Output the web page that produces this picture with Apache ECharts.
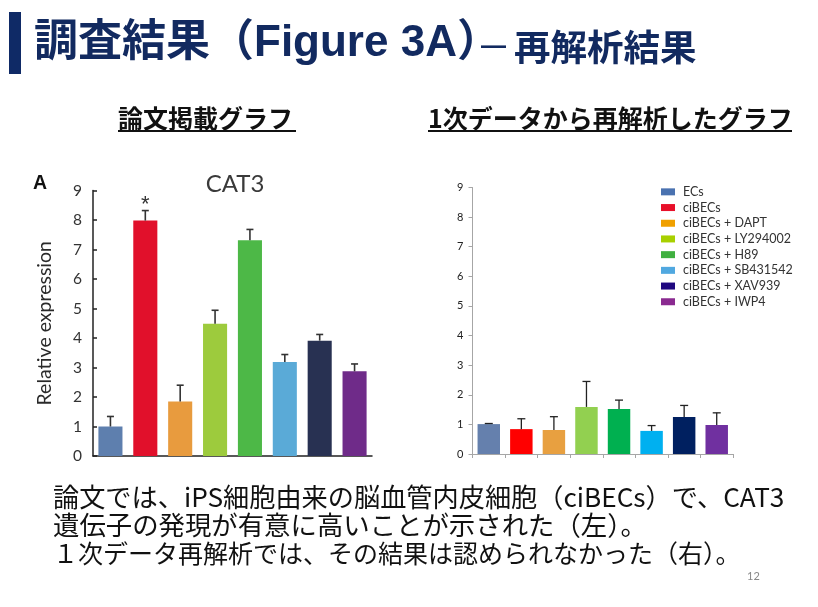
<!DOCTYPE html>
<html><head><meta charset="utf-8">
<script src="https://cdn.jsdelivr.net/npm/echarts@6/dist/echarts.min.js"></script>
<style>html,body{margin:0;padding:0;background:#fff}#c{width:818px;height:607px}</style>
</head><body><div id="c"></div>
<script>
// ---- data ----
const categories = ['ECs', 'ciBECs', 'ciBECs + DAPT', 'ciBECs + LY294002', 'ciBECs + H89', 'ciBECs + SB431542', 'ciBECs + XAV939', 'ciBECs + IWP4'];
const paperValues = [1.0, 7.98, 1.85, 4.48, 7.31, 3.19, 3.91, 2.87];
const paperErrorTops = [1.34, 8.32, 2.40, 4.94, 7.68, 3.44, 4.12, 3.12];
const paperMarks = ['', '*', '', '', '', '', '', ''];
const reanalysisValues = [1.01, 0.84, 0.81, 1.59, 1.52, 0.78, 1.25, 0.98];
const reanalysisErrorTops = [1.03, 1.19, 1.26, 2.45, 1.82, 0.96, 1.64, 1.39];
const yTickLabels = ['0', '1', '2', '3', '4', '5', '6', '7', '8', '9'];

// ---- styles ----
const paperColors = ['#5e7fae', '#e1102b', '#e89b3e', '#9dcb3d', '#4db847', '#5aaad7', '#283152', '#6f2b89'];
const reanalysisColors = ['#6580ad', '#ff0000', '#e8a040', '#92d050', '#00b050', '#00b0f0', '#002060', '#7030a0'];
const legendColors = ['#4a72b0', '#e8102a', '#f0a000', '#a8d000', '#40b040', '#50a8e0', '#200880', '#8a2a90'];
const NAVY = '#122a60';
const JP = '"Noto Sans CJK JP", sans-serif';
const LAT = 'Lato, "Noto Sans", sans-serif';

const chart = echarts.init(document.getElementById('c'), null, {renderer: 'canvas'});

function errorSeries(xi, vals, tops, marks, color, capHalf, lw) {
  return {
    type: 'custom', xAxisIndex: xi, yAxisIndex: xi, z: 5, silent: true,
    data: tops.map((t, i) => [i, vals[i], t]),
    renderItem(params, api) {
      const base = api.coord([api.value(0), api.value(1)]);
      const top = api.coord([api.value(0), api.value(2)]);
      const children = [
        {type: 'line', shape: {x1: base[0], y1: base[1], x2: top[0], y2: top[1]}, style: {stroke: color, lineWidth: lw}},
        {type: 'line', shape: {x1: top[0] - capHalf, y1: top[1], x2: top[0] + capHalf, y2: top[1]}, style: {stroke: color, lineWidth: lw}}
      ];
      if (marks && marks[params.dataIndex]) {
        children.push({type: 'text', style: {text: marks[params.dataIndex], x: top[0], y: top[1] - 6, align: 'center', verticalAlign: 'middle', fontSize: 22, fontFamily: 'Liberation Sans', fill: '#333'}});
      }
      return {type: 'group', children};
    }
  };
}

const rightBarSeries = categories.map((name, i) => ({
  name, type: 'bar', xAxisIndex: 1, yAxisIndex: 1,
  data: categories.map((_, j) => (j === i ? reanalysisValues[i] : '-')),
  barWidth: '69%', barGap: '-100%',
  itemStyle: {color: reanalysisColors[i]}
}));

const option = {
  backgroundColor: '#ffffff',
  animation: false,
  grid: [
    {left: 93, right: 446, top: 190.5, bottom: 151},
    {left: 472.5, right: 85, top: 187.5, bottom: 153}
  ],
  xAxis: [
    {gridIndex: 0, type: 'category', data: categories,
     axisLine: {lineStyle: {color: '#222', width: 1.5}}, axisTick: {show: false}, axisLabel: {show: false}},
    {gridIndex: 1, type: 'category', data: categories,
     axisLine: {lineStyle: {color: '#a6a6a6', width: 1}},
     axisTick: {show: true, interval: 0, length: 4, lineStyle: {color: '#a6a6a6'}}, axisLabel: {show: false}}
  ],
  yAxis: [
    {gridIndex: 0, type: 'value', min: 0, max: 9, interval: 1,
     name: 'Relative expression', nameLocation: 'middle', nameRotate: 90, nameGap: 38,
     nameTextStyle: {fontSize: 19.5, color: '#2a2a2a', fontFamily: LAT},
     axisLine: {show: true, lineStyle: {color: '#222', width: 1.5}},
     axisTick: {show: true, inside: true, length: 4, lineStyle: {color: '#222', width: 1.5}},
     splitLine: {show: false},
     axisLabel: {fontSize: 15.5, color: '#333', margin: 11, fontFamily: LAT, formatter: v => yTickLabels[v]}},
    {gridIndex: 1, type: 'value', min: 0, max: 9, interval: 1,
     axisLine: {show: true, lineStyle: {color: '#a6a6a6', width: 1}},
     axisTick: {show: true, length: 4, lineStyle: {color: '#a6a6a6'}},
     splitLine: {show: false},
     axisLabel: {fontSize: 11, color: '#222', margin: 9, fontFamily: LAT, formatter: v => yTickLabels[v]}}
  ],
  legend: {
    orient: 'vertical', left: 661, top: 184, padding: 0, itemWidth: 14, itemHeight: 7, itemGap: 0,
    icon: 'rect', selectedMode: false,
    textStyle: {fontSize: 12.5, lineHeight: 15.7, color: '#333', fontFamily: LAT, padding: [0, 0, 0, 3]},
    data: categories.map((n, i) => ({name: n, itemStyle: {color: legendColors[i]}}))
  },
  series: [
    {type: 'bar', xAxisIndex: 0, yAxisIndex: 0, barWidth: '69%',
     data: paperValues.map((v, i) => ({value: v, itemStyle: {color: paperColors[i]}}))},
    errorSeries(0, paperValues, paperErrorTops, paperMarks, '#333', 3.5, 1.6),
    ...rightBarSeries,
    errorSeries(1, reanalysisValues, reanalysisErrorTops, null, '#222', 4, 1.3)
  ],
  graphic: [
    {type: 'rect', shape: {x: 9, y: 12, width: 12, height: 62}, style: {fill: '#0f2a66'}},
    {type: 'text', style: {text: '調査結果（Figure 3A）', x: 34, y: 44, verticalAlign: 'middle', fontSize: 44, fontWeight: 'bold', fontFamily: '"Liberation Sans", "Noto Sans CJK JP", sans-serif', fill: NAVY}},
    {type: 'text', style: {text: '—', x: 481, y: 47, verticalAlign: 'middle', fontSize: 25, fontWeight: 'bold', fontFamily: '"Liberation Sans", sans-serif', fill: NAVY}},
    {type: 'text', style: {text: '再解析結果', x: 514, y: 47, verticalAlign: 'middle', fontSize: 36.5, fontWeight: 'bold', fontFamily: JP, fill: NAVY}},
    {type: 'text', style: {text: '論文掲載グラフ', x: 118, y: 118, verticalAlign: 'middle', fontSize: 25, fontWeight: 'bold', fontFamily: JP, fill: '#111'}},
    {type: 'line', shape: {x1: 118, y1: 131, x2: 296, y2: 131}, style: {stroke: '#111', lineWidth: 2}},
    {type: 'text', style: {text: '1次データから再解析したグラフ', x: 428, y: 118, verticalAlign: 'middle', fontSize: 25, fontWeight: 'bold', fontFamily: JP, fill: '#111'}},
    {type: 'line', shape: {x1: 428, y1: 131, x2: 792, y2: 131}, style: {stroke: '#111', lineWidth: 2}},
    {type: 'text', style: {text: 'A', x: 33, y: 184, verticalAlign: 'middle', fontSize: 19.5, fontWeight: 'bold', fontFamily: '"Liberation Sans", sans-serif', fill: '#111'}},
    {type: 'text', style: {text: 'CAT3', x: 235, y: 184, align: 'center', verticalAlign: 'middle', fontSize: 24, fontFamily: LAT, fill: '#3a3a3a'}},
    {type: 'text', style: {text: '論文では、iPS細胞由来の脳血管内皮細胞（ciBECs）で、CAT3', x: 53, y: 497, verticalAlign: 'middle', fontSize: 26.2, fontFamily: JP, fill: '#111'}},
    {type: 'text', style: {text: '遺伝子の発現が有意に高いことが示された（左）。', x: 53, y: 525, verticalAlign: 'middle', fontSize: 26.4, fontFamily: JP, fill: '#111'}},
    {type: 'text', style: {text: '１次データ再解析では、その結果は認められなかった（右）。', x: 53, y: 553, verticalAlign: 'middle', fontSize: 25, fontFamily: JP, fill: '#111'}},
    {type: 'text', style: {text: '12', x: 747, y: 576, verticalAlign: 'middle', fontSize: 11, fontFamily: LAT, fill: '#888'}}
  ]
};
chart.setOption(option);
</script></body></html>
